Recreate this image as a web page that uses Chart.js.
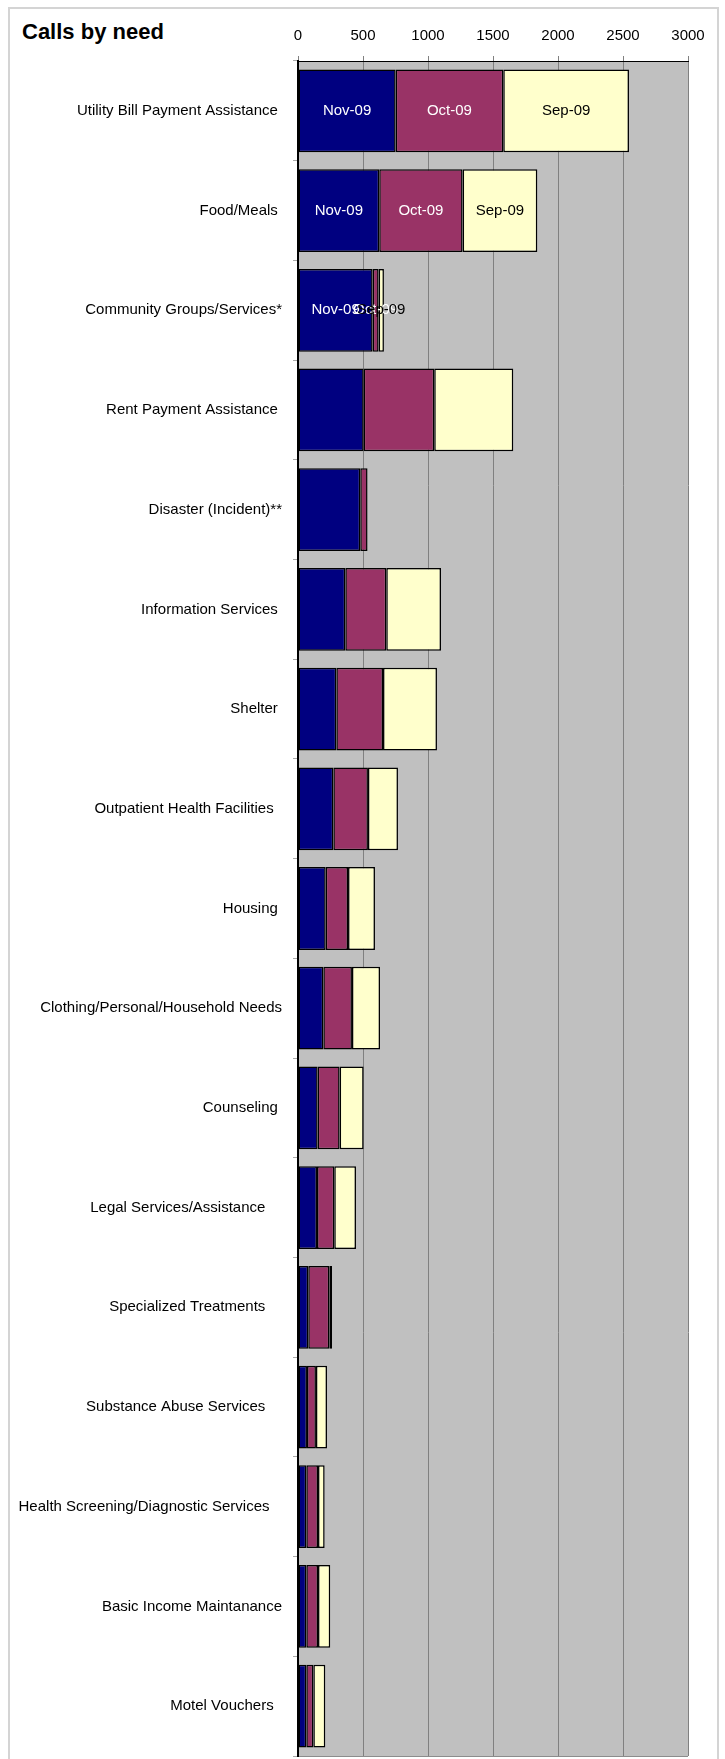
<!DOCTYPE html>
<html>
<head>
<meta charset="utf-8">
<title>Calls by need</title>
<script src="https://cdn.jsdelivr.net/npm/chart.js@4.4.1/dist/chart.umd.min.js"></script>
<style>
  html, body { margin: 0; padding: 0; width: 725px; height: 1759px; overflow: hidden; background: #fff; }
  #frame {
    position: absolute; left: 8px; top: 7px; width: 707px; height: 1750px;
    border: 2px solid #d4d4d4; border-bottom: none;
  }
  #title {
    position: absolute; left: 22px; top: 19px; line-height: 22px;
    font: bold 22px 'Liberation Sans', Arial, sans-serif; color: #000;
  }
  #chart { position: absolute; left: 0; top: 0; }
</style>
</head>
<body>
<div id="frame"></div>
<div id="title">Calls by need</div>
<canvas id="chart" width="725" height="1759"></canvas>
<script>
// categories as they appear (trailing spaces kept, Excel right-aligns them with the spaces)
const needs = [
    'Utility Bill Payment Assistance ',
    'Food/Meals ',
    'Community Groups/Services*',
    'Rent Payment Assistance ',
    'Disaster (Incident)**',
    'Information Services ',
    'Shelter ',
    'Outpatient Health Facilities  ',
    'Housing ',
    'Clothing/Personal/Household Needs',
    'Counseling ',
    'Legal Services/Assistance    ',
    'Specialized Treatments    ',
    'Substance Abuse Services    ',
    'Health Screening/Diagnostic Services   ',
    'Basic Income Maintanance',
    'Motel Vouchers  '
];

const months = ['Nov-09', 'Oct-09', 'Sep-09'];

const nov09 = [751, 625, 574, 505, 479, 364, 295, 272, 213, 195, 151, 146, 79, 69, 64, 64, 64];
const oct09 = [828, 641, 46, 543, 56, 315, 359, 266, 172, 220, 169, 133, 162, 69, 90, 90, 54];
const sep09 = [967, 575, 41, 608, 0, 421, 415, 231, 207, 216, 185, 167, 21, 85, 51, 94, 92];

const valueTicks = [0, 500, 1000, 1500, 2000, 2500, 3000];

// only the first few rows carry the series-name labels
const labelledRows = 3;

const FONT = "'Liberation Sans', Arial, sans-serif";

// grey plot area and its bottom edge
const plotBackground = {
    id: 'plotBackground',
    beforeDraw(chart) {
        const { ctx, chartArea: a } = chart;
        ctx.save();
        ctx.fillStyle = '#c0c0c0';
        ctx.fillRect(a.left, a.top, a.right - a.left, a.bottom - a.top);
        ctx.strokeStyle = '#8c8c8c';
        ctx.lineWidth = 1;
        ctx.beginPath();
        ctx.moveTo(a.left, a.bottom + 0.5);
        ctx.lineTo(a.right, a.bottom + 0.5);
        ctx.stroke();
        ctx.restore();
    }
};

// series name written in the middle of each segment of the labelled rows
const segmentLabels = {
    id: 'segmentLabels',
    afterDatasetsDraw(chart) {
        const { ctx } = chart;
        ctx.save();
        ctx.font = '15px ' + FONT;
        ctx.textAlign = 'center';
        ctx.textBaseline = 'middle';
        chart.data.datasets.forEach((ds, i) => {
            const meta = chart.getDatasetMeta(i);
            meta.data.forEach((bar, j) => {
                if (j >= labelledRows || ds.data[j] === 0) return;
                ctx.fillStyle = i === 2 ? '#000' : '#fff';
                ctx.fillText(ds.label, (bar.x + bar.base) / 2, bar.y);
            });
        });
        ctx.restore();
    }
};

const colours = ['#000080', '#993366', '#ffffcc'];
const series = [nov09, oct09, sep09];

new Chart(document.getElementById('chart'), {
    type: 'bar',
    data: {
        labels: needs,
        datasets: series.map((values, i) => ({
            label: months[i],
            data: values,
            backgroundColor: colours[i],
            borderColor: '#000',
            borderWidth: 1.5,
            borderSkipped: false,
            barPercentage: 0.83,
            categoryPercentage: 1
        }))
    },
    options: {
        indexAxis: 'y',
        responsive: false,
        animation: false,
        layout: { padding: { left: 0, right: 37, top: 0, bottom: 3 } },
        plugins: {
            legend: { display: false },
            tooltip: { enabled: false }
        },
        scales: {
            x: {
                position: 'top',
                stacked: true,
                min: 0,
                max: 3000,
                afterBuildTicks: (scale) => {
                    scale.ticks = valueTicks.map(v => ({ value: v }));
                },
                afterFit: (scale) => { scale.height = 61; },
                ticks: {
                    color: '#000',
                    padding: 11,
                    font: { family: FONT, size: 15 },
                    callback: (v) => String(v)
                },
                grid: {
                    color: '#808080',
                    lineWidth: 1,
                    tickLength: 5
                },
                border: { color: '#000', width: 1 }
            },
            y: {
                stacked: true,
                afterFit: (scale) => {
                    scale.width = 298;
                    // labels sit mid-band, no extra room needed above/below
                    scale.paddingTop = 0;
                    scale.paddingBottom = 0;
                },
                ticks: {
                    color: '#000',
                    padding: 11,
                    autoSkip: false,
                    font: { family: FONT, size: 15 }
                },
                grid: {
                    offset: true,
                    drawOnChartArea: false,
                    color: '#a8a8a8',
                    tickLength: 5
                },
                border: { color: '#000', width: 2 }
            }
        }
    },
    plugins: [plotBackground, segmentLabels]
});
</script>
</body>
</html>
